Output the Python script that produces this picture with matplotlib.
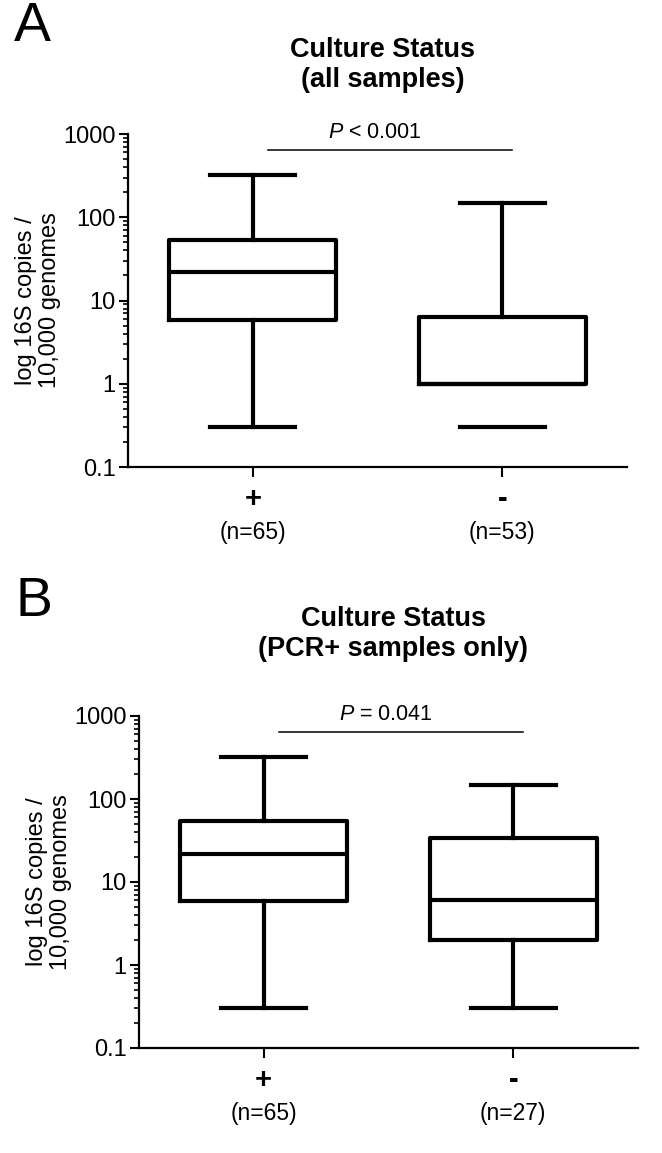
import matplotlib
matplotlib.use("Agg")
import matplotlib.pyplot as plt
from matplotlib.ticker import LogLocator, NullFormatter, FixedLocator, FixedFormatter

plt.rcParams["font.family"] = ["Liberation Sans", "DejaVu Sans"]
plt.rcParams["mathtext.fontset"] = "custom"
plt.rcParams["mathtext.rm"] = "Liberation Sans"
plt.rcParams["mathtext.it"] = "Liberation Sans:italic"

# box summaries (log 16S copies / 10,000 genomes)
groups = ["+", "-"]
n_a = [65, 53]
n_b = [65, 27]
whishi_a = [320, 148]
q3_a = [54, 6.4]
med_a = [22, 1.0]
q1_a = [5.9, 1.0]
whislo_a = [0.3, 0.3]

whishi_b = [320, 148]
q3_b = [54, 33.5]
med_b = [22, 6.1]
q1_b = [5.9, 2.0]
whislo_b = [0.3, 0.3]

p_text = ["$P$ < 0.001", "$P$ = 0.041"]
titles = ["Culture Status\n(all samples)", "Culture Status\n(PCR+ samples only)"]
yticks = [0.1, 1, 10, 100, 1000]
ytick_labels = ["0.1", "1", "10", "100", "1000"]

W, H = 662, 1153
fig = plt.figure(figsize=(W / 100, H / 100), dpi=100)


def panel(rect, hi, q3, med, q1, lo, ns, ptxt, title, title_off, letter, letter_xy,
          hide_lo=None):
    ax = fig.add_axes(rect)
    stats = []
    for i in range(len(groups)):
        stats.append(dict(med=med[i], q1=q1[i], q3=q3[i], whislo=lo[i], whishi=hi[i]))
    lw = 3.0
    art = ax.bxp(stats, positions=[1, 2], widths=0.67, capwidths=0.34,
                 showfliers=False, patch_artist=False,
                 boxprops=dict(color="black", linewidth=lw),
                 whiskerprops=dict(color="black", linewidth=lw),
                 capprops=dict(color="black", linewidth=lw),
                 medianprops=dict(color="black", linewidth=lw))
    if hide_lo is not None:
        art["whiskers"][2 * hide_lo].set_visible(False)
    ax.set_yscale("log")
    ax.set_ylim(0.1, 1000)
    ax.set_xlim(0.5, 2.5)
    ax.yaxis.set_major_locator(FixedLocator(yticks))
    ax.yaxis.set_major_formatter(FixedFormatter(ytick_labels))
    ax.yaxis.set_minor_locator(LogLocator(base=10, subs=range(2, 10), numticks=20))
    ax.yaxis.set_minor_formatter(NullFormatter())
    ax.set_xticks([1, 2])
    ax.set_xticklabels(["", ""])
    for s in ["top", "right"]:
        ax.spines[s].set_visible(False)
    for s in ["left", "bottom"]:
        ax.spines[s].set_linewidth(1.6)
    ax.tick_params(axis="y", which="major", length=6.5, width=1.5, pad=2.4, labelsize=17)
    ax.tick_params(axis="y", which="minor", length=3.6, width=1.2)
    ax.tick_params(axis="x", which="major", length=7, width=1.5)
    for i, g in enumerate(groups):
        ax.annotate(g, xy=(i + 1, 0), xycoords=("data", "axes fraction"),
                    xytext=(0, -23), textcoords="offset points",
                    ha="center", va="center", fontsize=21, fontweight="bold")
        ax.annotate(f"(n={ns[i]})", xy=(i + 1, 0), xycoords=("data", "axes fraction"),
                    xytext=(0, -47), textcoords="offset points",
                    ha="center", va="center", fontsize=16.5)
    # significance bar
    ax.plot([1.06, 2.04], [640, 640], color="black", linewidth=1.1, clip_on=False)
    ax.annotate(ptxt, xy=(1.49, 640), xycoords="data", xytext=(0, 13),
                textcoords="offset points", ha="center", va="center", fontsize=15.5)
    ax.text(0.51, 1 + title_off, title, transform=ax.transAxes, ha="center",
            va="center", fontsize=19.5, fontweight="bold", linespacing=1.2)
    ax.text(-90 / 499, 0.5, "log 16S copies /\n10,000 genomes", transform=ax.transAxes,
            rotation=90, ha="center", va="center", fontsize=17, linespacing=1.1)
    fig.text(letter_xy[0] / W, 1 - letter_xy[1] / H, letter, ha="center", va="center",
             fontsize=40)
    return ax


panel([128 / W, 1 - 467 / H, 499 / W, 333 / H], whishi_a, q3_a, med_a, q1_a, whislo_a,
      n_a, p_text[0], titles[0], 69 / 333, "A", (32, 27), hide_lo=1)
panel([139 / W, 1 - 1048 / H, 499 / W, 332 / H], whishi_b, q3_b, med_b, q1_b, whislo_b,
      n_b, p_text[1], titles[1], 82 / 332, "B", (34, 602))

fig.savefig("out.png", dpi=100)
